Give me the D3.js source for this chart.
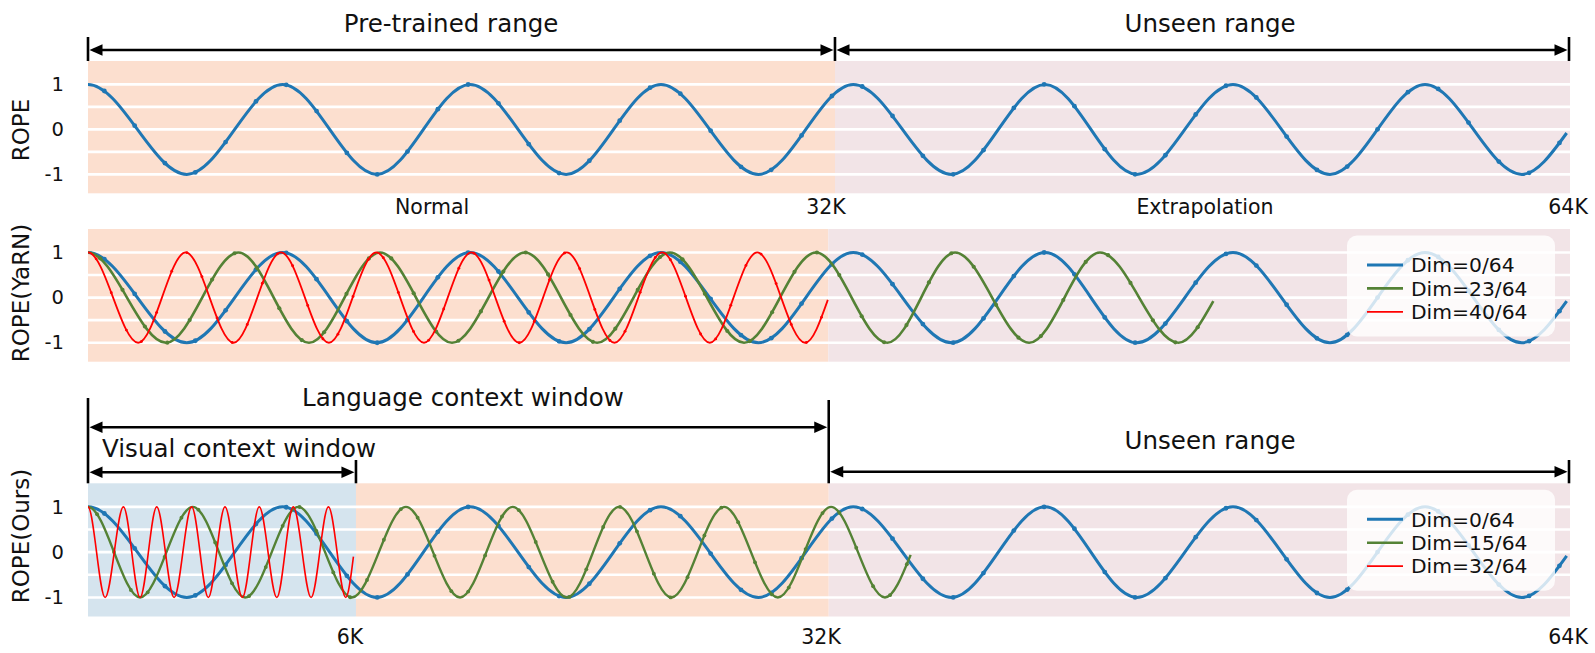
<!DOCTYPE html>
<html>
<head>
<meta charset="utf-8">
<script src="https://cdn.jsdelivr.net/npm/d3@7"></script>
<style>
  html, body { margin: 0; padding: 0; background: #ffffff; }
  svg { display: block; font-family: "DejaVu Sans", Verdana, sans-serif; }
</style>
</head>
<body>
<svg id="chart" width="1595" height="653"></svg>
<script>
// ---------------- DATA (positions along the sequence axis, in K-equivalent units) ----------------
// Region boundaries for each panel
const topBounds = [0, 32.28, 64];
const topKinds = ["trained", "unseen"];
const midBounds = [0, 31.99, 64];
const midKinds = ["trained", "unseen"];
const botBounds = [0, 11.58, 32.01, 64];
const botKinds = ["visual", "trained", "unseen"];

// y grid and ticks
const gridValues = [1, 0.5, 0, -0.5, -1];
const yTickValues = [1, 0, -1];
const yTickLabels = ["1", "0", "-1"];

// x labels
const topXLabels = ["Normal", "32K", "Extrapolation", "64K"];
const topXLabelPos = [14.87, 31.89, 48.27, 63.96];
const botXLabels = ["6K", "32K", "64K"];
const botXLabelPos = [11.32, 31.68, 63.96];

// panel y titles
const panelTitles = ["ROPE", "ROPE(YaRN)", "ROPE(Ours)"];

// range annotations
const topArrowLabels = ["Pre-trained range", "Unseen range"];
const topArrowSpans = [[0, 32.28], [32.28, 64]];
const topArrowLabelAt = [15.69, 48.49];
const botArrowLabels = ["Language context window", "Visual context window", "Unseen range"];
const botArrowSpans = [[0, 32.01], [0, 11.58], [32.01, 64]];
const botArrowLabelAt = [16.2, 6.53, 48.49];

// Curves: extrema (and end point)
// Dim=0/64 (same in all three panels)
const dim0X = [0, 4.27, 8.41, 12.48, 16.51, 20.66, 24.76, 28.97, 33.07, 37.32, 41.36, 45.32, 49.48, 53.67, 57.78, 61.96, 63.90];
const dim0Y = [1, -1, 1, -1, 1, -1, 1, -1, 1, -1, 1, -1, 1, -1, 1, -1, -0.08];
// YaRN Dim=23/64
const yarn23X = [0, 3.37, 6.50, 9.55, 12.62, 15.73, 18.88, 22.00, 25.15, 28.35, 31.46, 34.54, 37.47, 40.67, 43.73, 47.12, 48.63];
const yarn23Y = [1, -1, 1, -1, 1, -1, 1, -1, 1, -1, 1, -1, 1, -1, 1, -1, -0.08];
// YaRN Dim=40/64
const yarn40X = [0, 2.17, 4.22, 6.29, 8.34, 10.41, 12.46, 14.52, 16.57, 18.64, 20.69, 22.75, 24.81, 26.87, 28.92, 30.99, 31.97];
const yarn40Y = [1, -1, 1, -1, 1, -1, 1, -1, 1, -1, 1, -1, 1, -1, 1, -1, -0.05];
// Ours Dim=15/64
const ours15X = [0, 2.25, 4.53, 6.79, 9.09, 11.40, 13.74, 16.08, 18.35, 20.70, 22.95, 25.21, 27.49, 29.81, 32.11, 34.44, 35.55];
const ours15Y = [1, -1, 1, -1, 1, -1, 1, -1, 1, -1, 1, -1, 1, -1, 1, -1, -0.06];
// Ours Dim=32/64
const ours32X = [0, 0.74, 1.53, 2.25, 2.97, 3.72, 4.48, 5.20, 5.92, 6.67, 7.40, 8.16, 8.87, 9.64, 10.39, 11.14, 11.47];
const ours32Y = [1, -1, 1, -1, 1, -1, 1, -1, 1, -1, 1, -1, 1, -1, 1, -1, -0.1];

// marker spacing along each curve (K units)
const dim0MarkStep = 1.31, yarn23MarkStep = 0.968, yarn40MarkStep = 0.653, ours15MarkStep = 0.729;

const midLegend = ["Dim=0/64", "Dim=23/64", "Dim=40/64"];
const botLegend = ["Dim=0/64", "Dim=15/64", "Dim=32/64"];

// ---------------- STYLE ----------------
const regionColor = { trained: "#fcdfcf", unseen: "#f2e4e7", visual: "#d5e4ee" };
const BLUE = "#1f77b4", GREEN = "#548235", RED = "#ff0000";
const FONT = "DejaVu Sans, Verdana, sans-serif";

const svg = d3.select("#chart");
const x = d3.scaleLinear().domain([0, 64]).range([88, 1569]);

const panelBoxes = [
  { top: 61, bottom: 193.3 },
  { top: 229, bottom: 361.7 },
  { top: 483.3, bottom: 616.5 }
];
const titleY = [130, 293, 536];

// cubic Hermite with flat crests
function hermiteSlopes(X, Y) {
  const n = X.length, m = new Array(n).fill(0);
  for (let i = 0; i < n; i++) {
    if (i === 0) { m[i] = 0; continue; }
    if (i === n - 1) {
      const d = Y[i] - Y[i - 1];
      const full = n > 2 ? Math.abs(Y[i - 1] - Y[i - 2]) : Math.abs(d);
      m[i] = Math.abs(d) < 0.9 * full ? 1.5 * d / (X[i] - X[i - 1]) : 0;
      continue;
    }
    const s0 = (Y[i] - Y[i - 1]) / (X[i] - X[i - 1]);
    const s1 = (Y[i + 1] - Y[i]) / (X[i + 1] - X[i]);
    m[i] = s0 * s1 <= 0 ? 0 : (s0 + s1) / 2;
  }
  return m;
}
function curveCrest(context) {
  let X = [], Y = [];
  return {
    areaStart() {}, areaEnd() {},
    lineStart() { X = []; Y = []; },
    point(a, b) { X.push(+a); Y.push(+b); },
    lineEnd() {
      if (!X.length) return;
      const m = hermiteSlopes(X, Y);
      context.moveTo(X[0], Y[0]);
      for (let i = 1; i < X.length; i++) {
        const h = (X[i] - X[i - 1]) / 3;
        context.bezierCurveTo(X[i - 1] + h, Y[i - 1] + m[i - 1] * h, X[i] - h, Y[i] - m[i] * h, X[i], Y[i]);
      }
    }
  };
}
function evalCrest(X, Y, m, xv) {
  let i = 1;
  while (i < X.length - 1 && X[i] < xv) i++;
  const h = X[i] - X[i - 1], t = (xv - X[i - 1]) / h;
  const t2 = t * t, t3 = t2 * t;
  return (2 * t3 - 3 * t2 + 1) * Y[i - 1] + (t3 - 2 * t2 + t) * h * m[i - 1] +
         (-2 * t3 + 3 * t2) * Y[i] + (t3 - t2) * h * m[i];
}

function drawPanel(pi, bounds, kinds, series, legendLabels) {
  const box = panelBoxes[pi];
  const y = d3.scaleLinear().domain([-1.42, 1.52]).range([box.bottom, box.top]);
  const g = svg.append("g");

  // backgrounds
  g.selectAll("rect.bg").data(kinds).join("rect")
    .attr("x", (d, i) => x(bounds[i]))
    .attr("width", (d, i) => x(bounds[i + 1]) - x(bounds[i]) + (i === kinds.length - 1 ? 1 : 0))
    .attr("y", box.top).attr("height", box.bottom - box.top)
    .attr("fill", d => regionColor[d]);

  // grid
  g.selectAll("line.grid").data(gridValues).join("line")
    .attr("x1", x(0)).attr("x2", x(64) + 1)
    .attr("y1", d => y(d)).attr("y2", d => y(d))
    .attr("stroke", "#ffffff").attr("stroke-width", 2.6);

  // y ticks
  const yAxis = d3.axisLeft(y).tickValues(yTickValues).tickSize(0).tickPadding(0)
    .tickFormat((d, i) => yTickLabels[i]);
  const ag = g.append("g").attr("transform", `translate(64,0)`).call(yAxis);
  ag.select(".domain").remove();
  ag.selectAll("text").attr("font-size", 19.5).attr("font-family", FONT).attr("fill", "#111");

  // title
  g.append("text")
    .attr("transform", `translate(29,${titleY[pi]}) rotate(-90)`)
    .attr("text-anchor", "middle")
    .attr("font-size", 23).attr("font-family", FONT).attr("fill", "#111")
    .text(panelTitles[pi]);

  const line = d3.line().x(d => x(d[0])).y(d => y(d[1])).curve(curveCrest);

  series.forEach(s => {
    const pts = s.xs.map((v, i) => [v, s.ys[i]]);
    g.append("path").datum(pts)
      .attr("d", line).attr("fill", "none")
      .attr("stroke", s.color).attr("stroke-width", s.width)
      .attr("stroke-linejoin", "round").attr("stroke-linecap", "butt");
    if (s.step) {
      const PX = s.xs.map(v => x(v)), PY = s.ys.map(v => y(v));
      const m = hermiteSlopes(PX, PY);
      const marks = d3.range(0.54 * s.step, s.xs[s.xs.length - 1], s.step);
      g.selectAll(null).data(marks).join("circle")
        .attr("cx", d => x(d))
        .attr("cy", d => evalCrest(PX, PY, m, x(d)))
        .attr("r", s.width * 0.8)
        .attr("fill", s.color);
    }
  });

  if (legendLabels) {
    const lx = 1347, ly = box.top + 6.5;
    const lg = g.append("g");
    lg.append("rect").attr("x", lx).attr("y", ly).attr("width", 208).attr("height", 101)
      .attr("rx", 10).attr("fill", "rgba(255,255,255,0.8)");
    legendLabels.forEach((lab, i) => {
      const ry = ly + 29.5 + i * 23.4;
      lg.append("line").attr("x1", lx + 20).attr("x2", lx + 56).attr("y1", ry).attr("y2", ry)
        .attr("stroke", series[i].color).attr("stroke-width", series[i].width);
      lg.append("text").attr("x", lx + 64).attr("y", ry).attr("dy", "0.36em")
        .attr("font-size", 20.3).attr("font-family", FONT).attr("fill", "#111").text(lab);
    });
  }
}

const blueS = (step) => ({ xs: dim0X, ys: dim0Y, color: BLUE, width: 3, step });
drawPanel(0, topBounds, topKinds, [blueS(dim0MarkStep)], null);
drawPanel(1, midBounds, midKinds, [
  blueS(dim0MarkStep),
  { xs: yarn23X, ys: yarn23Y, color: GREEN, width: 2.6, step: yarn23MarkStep },
  { xs: yarn40X, ys: yarn40Y, color: RED, width: 1.8, step: yarn40MarkStep }
], midLegend);
drawPanel(2, botBounds, botKinds, [
  blueS(dim0MarkStep),
  { xs: ours15X, ys: ours15Y, color: GREEN, width: 2.4, step: ours15MarkStep },
  { xs: ours32X, ys: ours32Y, color: RED, width: 1.6, step: null }
], botLegend);

// x labels
svg.selectAll("text.xt").data(topXLabels).join("text")
  .attr("x", (d, i) => x(topXLabelPos[i])).attr("y", 214)
  .attr("text-anchor", "middle").attr("font-size", 20.5).attr("font-family", FONT).attr("fill", "#111")
  .text(d => d);
svg.selectAll("text.xb").data(botXLabels).join("text")
  .attr("x", (d, i) => x(botXLabelPos[i])).attr("y", 644)
  .attr("text-anchor", "middle").attr("font-size", 20.5).attr("font-family", FONT).attr("fill", "#111")
  .text(d => d);

// ---------------- range arrows ----------------
const ann = svg.append("g").attr("stroke", "#000").attr("fill", "#000");
function vbar(pos, y1, y2) {
  ann.append("line").attr("x1", x(pos)).attr("x2", x(pos)).attr("y1", y1).attr("y2", y2)
    .attr("stroke-width", 2.6);
}
function arrow(span, yy) {
  const a = x(span[0]) + 1.5, b = x(span[1]) - 1.5, L = 13, Hh = 5.8;
  ann.append("line").attr("x1", a + 4).attr("x2", b - 4).attr("y1", yy).attr("y2", yy).attr("stroke-width", 2.4);
  ann.append("path").attr("stroke", "none")
    .attr("d", `M${a},${yy}L${a + L},${yy - Hh}L${a + L},${yy + Hh}Z`);
  ann.append("path").attr("stroke", "none")
    .attr("d", `M${b},${yy}L${b - L},${yy - Hh}L${b - L},${yy + Hh}Z`);
}
function label(txt, pos, yy) {
  svg.append("text").attr("x", x(pos)).attr("y", yy).attr("text-anchor", "middle")
    .attr("font-size", 24.5).attr("font-family", FONT).attr("fill", "#111").text(txt);
}

// top
const topArrowY = 50;
topArrowSpans.forEach((s, i) => { arrow(s, topArrowY); label(topArrowLabels[i], topArrowLabelAt[i], 32); });
[topBounds[0], topBounds[1], topBounds[2]].forEach(p => vbar(p, 37, panelBoxes[0].top));

// bottom
const botArrowY = [427.3, 472.3, 471.7];
const botLabelY = [406, 457, 449];
botArrowSpans.forEach((s, i) => { arrow(s, botArrowY[i]); label(botArrowLabels[i], botArrowLabelAt[i], botLabelY[i]); });
vbar(botBounds[0], 398, panelBoxes[2].top);
vbar(botBounds[2], 400, panelBoxes[2].top);
vbar(botBounds[1], 460, panelBoxes[2].top);
vbar(botBounds[3], 460, panelBoxes[2].top);
</script>
</body>
</html>
